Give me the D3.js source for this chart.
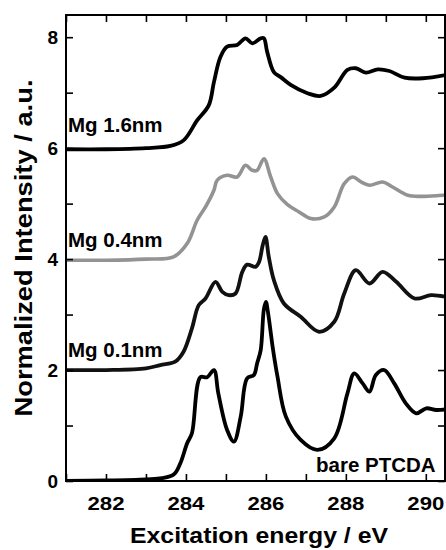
<!DOCTYPE html>
<meta charset="utf-8">
<script src="https://d3js.org/d3.v7.min.js"></script>
<style>
  body { margin: 0; background: #fff; }
  text { font-family: "Liberation Sans", Arial, sans-serif; font-weight: bold; }
</style>
<div id="chart"></div>
<script>
// spectra (energy in eV, normalized intensity incl. offset)
const bareE = [281, 282, 283, 283.4, 283.7, 283.86, 284.03, 284.15, 284.36, 284.53, 284.7, 284.81, 285.03, 285.2, 285.37, 285.53, 285.7, 285.78, 285.87, 285.95, 286.0, 286.05, 286.18, 286.29, 286.5, 286.87, 287.29, 287.71, 288.04, 288.21, 288.42, 288.59, 288.75, 288.96, 289.21, 289.5, 289.76, 290.01, 290.26, 290.5];
const bareI = [0, 0.01, 0.03, 0.05, 0.12, 0.32, 0.68, 0.86, 1.87, 1.87, 2.0, 1.58, 0.92, 0.71, 1.16, 1.85, 1.91, 2.12, 2.36, 3.1, 3.23, 3.05, 2.36, 1.88, 1.16, 0.74, 0.56, 0.77, 1.58, 1.94, 1.76, 1.61, 1.91, 2.0, 1.76, 1.4, 1.22, 1.31, 1.28, 1.29];

const mg01E = [281, 282, 283, 283.36, 283.73, 283.94, 284.15, 284.32, 284.49, 284.74, 284.91, 285.07, 285.24, 285.41, 285.53, 285.74, 285.83, 285.92, 285.99, 286.07, 286.2, 286.45, 286.87, 287.33, 287.71, 287.96, 288.25, 288.59, 288.92, 289.26, 289.72, 290.13, 290.5];
const mg01I = [2.0, 2.0, 2.03, 2.09, 2.15, 2.33, 2.75, 3.17, 3.29, 3.59, 3.41, 3.35, 3.38, 3.77, 3.9, 3.86, 3.95, 4.25, 4.4, 4.05, 3.62, 3.2, 2.96, 2.69, 2.87, 3.38, 3.8, 3.56, 3.77, 3.59, 3.29, 3.35, 3.32];

const mg04E = [281, 282, 283, 283.69, 284.03, 284.28, 284.49, 284.7, 284.78, 285.03, 285.28, 285.49, 285.66, 285.78, 285.95, 286.12, 286.29, 286.54, 286.83, 287.12, 287.46, 287.71, 287.96, 288.17, 288.38, 288.59, 288.92, 289.17, 289.55, 289.88, 290.43, 290.5];
const mg04I = [3.98, 3.98, 4.0, 4.04, 4.28, 4.7, 4.94, 5.24, 5.42, 5.51, 5.48, 5.69, 5.6, 5.6, 5.81, 5.48, 5.18, 4.98, 4.85, 4.73, 4.76, 4.94, 5.36, 5.48, 5.39, 5.33, 5.39, 5.3, 5.15, 5.13, 5.15, 5.15];

const mg16E = [281, 282, 283, 283.61, 283.94, 284.28, 284.57, 284.7, 284.86, 285.03, 285.28, 285.49, 285.66, 285.87, 285.95, 286.03, 286.2, 286.37, 286.62, 287.04, 287.37, 287.71, 288.04, 288.25, 288.5, 288.8, 289.09, 289.47, 289.93, 290.5];
const mg16I = [5.98, 5.98, 6.0, 6.04, 6.14, 6.5, 6.77, 7.19, 7.64, 7.83, 7.86, 7.98, 7.89, 7.98, 7.98, 7.74, 7.37, 7.28, 7.14, 6.99, 6.94, 7.09, 7.41, 7.44, 7.36, 7.42, 7.39, 7.27, 7.26, 7.32];

const xTicks = [281, 282, 283, 284, 285, 286, 287, 288, 289, 290];
const xLabels = [282, 284, 286, 288, 290];
const yTicks = [0, 1, 2, 3, 4, 5, 6, 7, 8];
const yLabels = [0, 2, 4, 6, 8];

const series = [
  {name: "bare PTCDA", e: bareE, v: bareI, color: "#000", width: 3.8},
  {name: "Mg 0.1nm", e: mg01E, v: mg01I, color: "#111", width: 3.8},
  {name: "Mg 0.4nm", e: mg04E, v: mg04I, color: "#939393", width: 3.6},
  {name: "Mg 1.6nm", e: mg16E, v: mg16I, color: "#000", width: 3.8}
];

const W = 446, H = 550;
const margin = {top: 15, right: 1, bottom: 69, left: 66};
const width = W - margin.left - margin.right,
      height = H - margin.top - margin.bottom;

const svg = d3.select("#chart").append("svg")
    .attr("width", W)
    .attr("height", H);
const g = svg.append("g")
    .attr("transform", `translate(${margin.left},${margin.top})`);

const x = d3.scaleLinear().domain([281, 290.48]).range([0, width]);
const y = d3.scaleLinear().domain([0, 8.4]).range([height, 0]);

g.append("defs").append("clipPath").attr("id", "clip")
  .append("rect").attr("width", width).attr("height", height);

// curves
const line = d3.line()
    .x(d => x(d[0]))
    .y(d => y(d[1]))
    .curve(d3.curveCatmullRom.alpha(0.5));

g.append("g").attr("clip-path", "url(#clip)")
  .selectAll("path")
  .data(series)
  .join("path")
    .attr("fill", "none")
    .attr("stroke", d => d.color)
    .attr("stroke-width", d => d.width)
    .attr("stroke-linejoin", "round")
    .attr("d", d => line(d.e.map((e, i) => [e, d.v[i]])));

// frame + inward ticks on all four sides
const tick = 7;
g.append("g").attr("transform", `translate(0,${height})`)
  .call(d3.axisBottom(x).tickValues(xTicks).tickSizeInner(-tick).tickSizeOuter(0).tickFormat(""));
g.append("g")
  .call(d3.axisTop(x).tickValues(xTicks).tickSizeInner(-tick).tickSizeOuter(0).tickFormat(""));
g.append("g")
  .call(d3.axisLeft(y).tickValues(yTicks).tickSizeInner(-tick).tickSizeOuter(0).tickFormat(""));
g.append("g").attr("transform", `translate(${width},0)`)
  .call(d3.axisRight(y).tickValues(yTicks).tickSizeInner(-tick).tickSizeOuter(0).tickFormat(""));
g.selectAll(".domain").remove();
g.selectAll(".tick line").attr("stroke", "#000").attr("stroke-width", 1.6);

g.append("rect")
    .attr("width", width).attr("height", height)
    .attr("fill", "none").attr("stroke", "#000").attr("stroke-width", 2);

// tick labels
g.selectAll(".xl")
  .data(xLabels)
  .join("text")
    .attr("class", "xl")
    .attr("x", d => x(d))
    .attr("y", height + 29)
    .attr("text-anchor", "middle")
    .attr("font-size", 19)
    .attr("textLength", 37)
    .attr("lengthAdjust", "spacingAndGlyphs")
    .text(d => d);

g.selectAll(".yl")
  .data(yLabels)
  .join("text")
    .attr("class", "yl")
    .attr("x", -8)
    .attr("y", d => y(d) + 7)
    .attr("text-anchor", "end")
    .attr("font-size", 19)
    .text(d => d);

// axis titles
svg.append("text")
    .attr("x", 259)
    .attr("y", 543)
    .attr("text-anchor", "middle")
    .attr("font-size", 22)
    .attr("textLength", 258)
    .attr("lengthAdjust", "spacingAndGlyphs")
    .text("Excitation energy / eV");

svg.append("text")
    .attr("transform", "translate(32,248) rotate(-90)")
    .attr("text-anchor", "middle")
    .attr("font-size", 23)
    .attr("textLength", 337)
    .attr("lengthAdjust", "spacingAndGlyphs")
    .text("Normalized Intensity / a.u.");

// curve labels
const curveLabels = [
  {text: "Mg 1.6nm", x: 68, y: 132},
  {text: "Mg 0.4nm", x: 68, y: 247},
  {text: "Mg 0.1nm", x: 68, y: 357},
  {text: "bare PTCDA", x: 316, y: 472}
];
svg.selectAll(".cl")
  .data(curveLabels)
  .join("text")
    .attr("class", "cl")
    .attr("x", d => d.x)
    .attr("y", d => d.y)
    .attr("font-size", 20.5)
    .text(d => d.text);
</script>
